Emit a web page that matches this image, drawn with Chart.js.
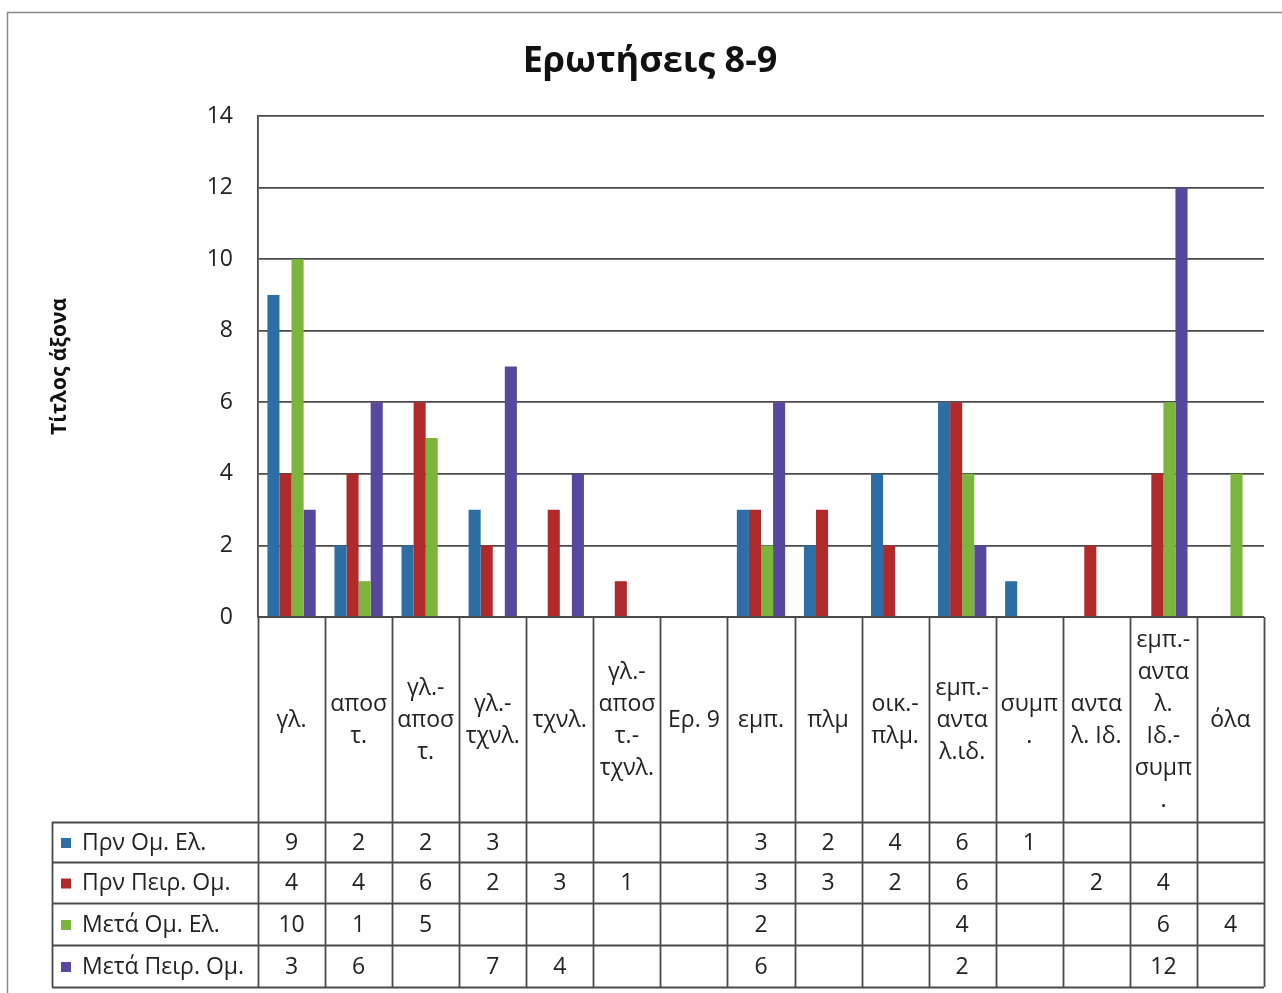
<!DOCTYPE html>
<html>
<head>
<meta charset="utf-8">
<script src="https://cdn.jsdelivr.net/npm/chart.js@4.4.1/dist/chart.umd.min.js"></script>
<style>
  html, body { margin: 0; padding: 0; background: #fff; }
  #wrap { position: relative; width: 1282px; height: 993px; }
</style>
</head>
<body>
<div id="wrap"><canvas id="c" width="1282" height="993"></canvas></div>
<script>
// Categories (each entry holds the wrapped lines of its table header cell)
const categories = [
  ["γλ."],
  ["αποσ", "τ."],
  ["γλ.-", "αποσ", "τ."],
  ["γλ.-", "τχνλ."],
  ["τχνλ."],
  ["γλ.-", "αποσ", "τ.-", "τχνλ."],
  ["Ερ. 9"],
  ["εμπ."],
  ["πλμ"],
  ["οικ.-", "πλμ."],
  ["εμπ.-", "αντα", "λ.ιδ."],
  ["συμπ", "."],
  ["αντα", "λ. Ιδ."],
  ["εμπ.-", "αντα", "λ.", "Ιδ.-", "συμπ", "."],
  ["όλα"]
];

const seriesNames = ["Πρν Ομ. Ελ.", "Πρν Πειρ. Ομ.", "Μετά Ομ. Ελ.", "Μετά Πειρ. Ομ."];

const prinOmEl   = [9, 2, 2, 3, null, null, null, 3, 2, 4, 6, 1, null, null, null];
const prinPeirOm = [4, 4, 6, 2, 3, 1, null, 3, 3, 2, 6, null, 2, 4, null];
const metaOmEl   = [10, 1, 5, null, null, null, null, 2, null, null, 4, null, null, 6, 4];
const metaPeirOm = [3, 6, null, 7, 4, null, null, 6, null, null, 2, null, null, 12, null];

const yTicks = [0, 2, 4, 6, 8, 10, 12, 14];

const seriesColors = ["#2d6fa4", "#b02a2c", "#7db53c", "#57479f"];
const seriesData = [prinOmEl, prinPeirOm, metaOmEl, metaPeirOm];

const FONT = "'Open Sans', 'Noto Sans', 'DejaVu Sans', sans-serif";
const LINE = "#4a4a4a";

// Data table drawn under the plot, aligned to the category scale
const tablePlugin = {
  id: "dataTable",
  afterDraw(chart) {
    const ctx = chart.ctx;
    const x = chart.scales.x;
    const area = chart.chartArea;
    const n = categories.length;
    const colW = (x.getPixelForValue(1) - x.getPixelForValue(0));
    const left = x.getPixelForValue(0) - colW / 2;
    const right = x.getPixelForValue(n - 1) + colW / 2;
    const top = area.bottom;
    const headerBottom = 822;
    const rows = [822, 862, 903, 945, 987];
    const legendLeft = 52;

    ctx.save();
    // outer frame of the chart
    ctx.strokeStyle = "#8a8a8a";
    ctx.lineWidth = 1.5;
    ctx.strokeRect(7.5, 12.5, 1300, 1000);

    ctx.strokeStyle = LINE;
    ctx.lineWidth = 1.8;
    ctx.beginPath();
    ctx.moveTo(left, top); ctx.lineTo(right, top);
    for (let i = 0; i <= n; i++) {
      const px = Math.round(left + i * colW) + 0.5;
      ctx.moveTo(px, top); ctx.lineTo(px, rows[rows.length - 1]);
    }
    rows.forEach(r => { ctx.moveTo(legendLeft, r + 0.5); ctx.lineTo(right, r + 0.5); });
    ctx.moveTo(legendLeft + 0.5, rows[0]); ctx.lineTo(legendLeft + 0.5, rows[rows.length - 1]);
    ctx.stroke();

    // header cells
    ctx.fillStyle = "#222";
    ctx.font = "23px " + FONT;
    ctx.textAlign = "center";
    ctx.textBaseline = "middle";
    const lh = 32;
    const midHeader = (top + headerBottom) / 2 + 1;
    categories.forEach((lines, i) => {
      const cx = x.getPixelForValue(i);
      const y0 = midHeader - (lines.length - 1) * lh / 2;
      lines.forEach((t, k) => ctx.fillText(t, cx, y0 + k * lh));
    });

    // value rows with legend keys
    seriesData.forEach((vals, s) => {
      const cy = (rows[s] + rows[s + 1]) / 2 + 1;
      ctx.fillStyle = seriesColors[s];
      ctx.fillRect(61, cy - 5, 10, 10);
      ctx.fillStyle = "#222";
      ctx.textAlign = "left";
      ctx.fillText(seriesNames[s], 82, cy);
      ctx.textAlign = "center";
      vals.forEach((v, i) => {
        if (v !== null) ctx.fillText(String(v), x.getPixelForValue(i), cy);
      });
    });
    ctx.restore();
  }
};

new Chart(document.getElementById("c"), {
  type: "bar",
  data: {
    labels: categories.map(l => l.join("")),
    datasets: seriesNames.map((name, s) => ({
      label: name,
      data: seriesData[s],
      backgroundColor: seriesColors[s],
      borderWidth: 0,
      categoryPercentage: 0.72,
      barPercentage: 1.0
    }))
  },
  options: {
    responsive: false,
    animation: false,
    layout: { padding: { left: 36, right: 18, top: 0, bottom: 0 } },
    plugins: {
      legend: { display: false },
      tooltip: { enabled: false },
      title: {
        display: true,
        text: "Ερωτήσεις 8-9",
        color: "#111",
        font: { family: FONT, size: 36, weight: "bold" },
        padding: { top: 40.4, bottom: 32.4 }
      }
    },
    scales: {
      x: {
        type: "category",
        offset: true,
        grid: { display: false },
        border: { display: false },
        ticks: { display: false },
        afterFit(scale) { scale.height = 376; }
      },
      y: {
        min: 0,
        max: 14,
        afterBuildTicks(scale) { scale.ticks = yTicks.map(v => ({ value: v })); },
        grid: { color: LINE, lineWidth: 1.8, drawTicks: false },
        border: { display: true, color: LINE, width: 1.8 },
        ticks: { color: "#222", padding: 25, font: { family: FONT, size: 23 } },
        title: {
          display: true,
          text: "Τίτλος άξονα",
          color: "#111",
          font: { family: FONT, size: 21, weight: "bold" },
          padding: { top: 11.4, bottom: 0 }
        },
        afterFit(scale) { scale.width = 222; }
      }
    }
  },
  plugins: [tablePlugin]
});
</script>
</body>
</html>
